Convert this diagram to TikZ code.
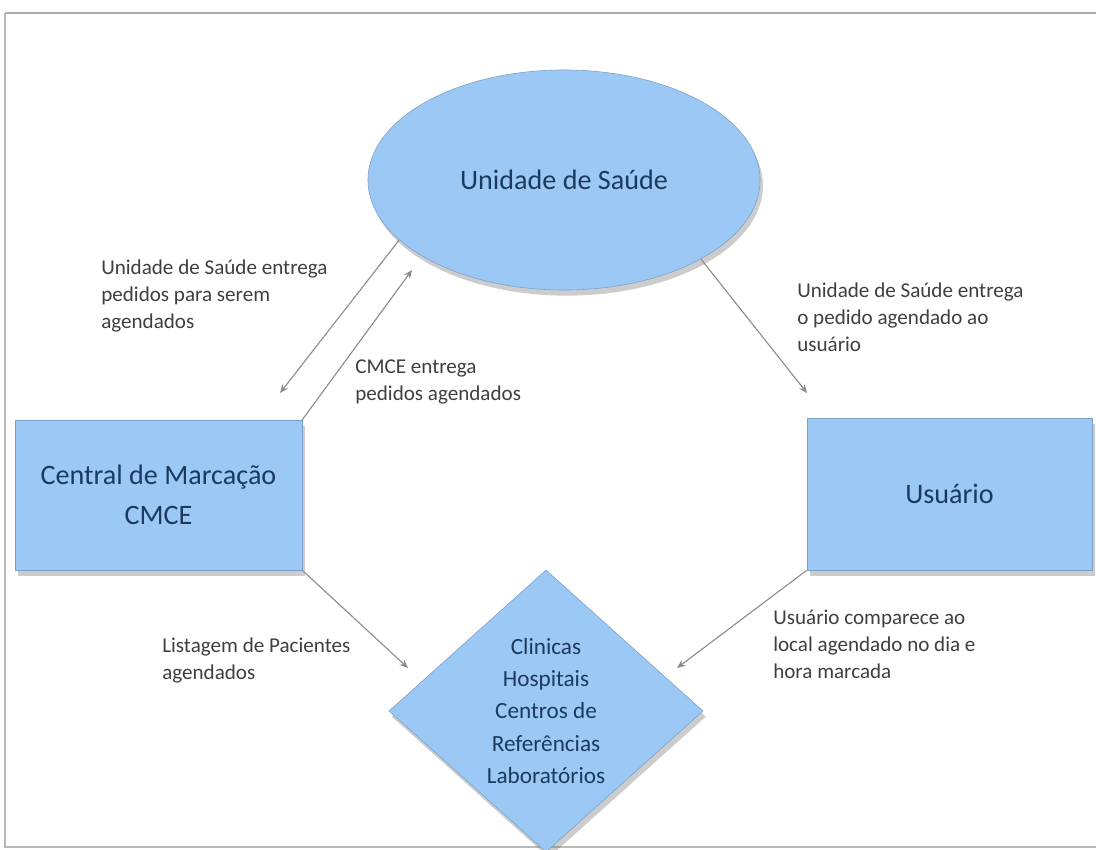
\documentclass[tikz,border=0pt]{standalone}
\usepackage{fontspec}
\setmainfont{Carlito}
\usepackage{tikz}
\usetikzlibrary{shapes,arrows.meta,shadows}
\definecolor{bblue}{HTML}{9CC8F6}
\definecolor{bedge}{HTML}{7A9FC8}
\definecolor{bnavy}{HTML}{1B3A5E}
\definecolor{bgray}{HTML}{3F3F3F}
\definecolor{agray}{HTML}{8C8C8C}
\tikzstyle{block} = [draw=bedge, fill=bblue, text=bnavy, align=center, drop shadow={opacity=0.4, shadow xshift=2pt, shadow yshift=-4pt}]
\tikzstyle{rectblock} = [block, rectangle, font=\fontsize{20}{28}\selectfont]
\tikzstyle{note} = [align=left, anchor=north west, inner sep=0pt, text=bgray, font=\fontsize{15}{19.2}\selectfont]
\tikzstyle{arrow} = [draw=agray, line width=0.8pt, -{Stealth[length=6pt, width=5pt]}]

\begin{document}
\begin{tikzpicture}[x=0.025cm, y=-0.025cm]
    \useasboundingbox (0,0) rectangle (1096,849);
    % frame
    \draw[gray!65, line width=2pt] (5,13) -- (1096,13);
    \draw[gray!55, line width=0.8pt] (5,13) -- (5,847) -- (1096,847);

    % main blocks
    \node[block, ellipse, minimum width=9.8cm, minimum height=5.5cm, font=\fontsize{20}{24}\selectfont] at (564, 180) (saude) {Unidade de Saúde};
    \node[rectblock, minimum width=7.175cm, minimum height=3.75cm] at (158.5, 495) (cmce) {Central de Marcação\\CMCE};
    \node[rectblock, minimum width=7.125cm, minimum height=3.8cm] at (949.5, 494) (usuario) {Usuário};
    \node[block, diamond, inner sep=0pt, minimum width=7.85cm, minimum height=7.05cm, font=\fontsize{16.5}{23}\selectfont] at (546, 711) (locais) {Clinicas\\Hospitais\\Centros de\\Referências\\Laboratórios};

    % notes
    \node[note] at (101, 260) (n1) {Unidade de Saúde entrega\\pedidos para serem\\agendados};
    \node[note] at (355, 360) (n2) {CMCE entrega\\pedidos agendados};
    \node[note] at (797, 283) (n3) {Unidade de Saúde entrega\\o pedido agendado ao\\usuário};
    \node[note] at (162, 638) (n4) {Listagem de Pacientes\\agendados};
    \node[note] at (773, 610) (n5) {Usuário comparece ao\\local agendado no dia e\\hora marcada};

    % flows
    \coordinate (t1) at (280, 393);
    \coordinate (t2) at (412, 270);
    \coordinate (t3) at (807, 393);
    \coordinate (t4) at (408, 668);
    \coordinate (t5) at (677, 668);
    \path[arrow] (saude.200) -- (t1);
    \path[arrow] (cmce.north east) -- (t2);
    \path[arrow] (saude.-30) -- (t3);
    \path[arrow] (cmce.south east) -- (t4);
    \path[arrow] (usuario.south west) -- (t5);
\end{tikzpicture}
\end{document}
